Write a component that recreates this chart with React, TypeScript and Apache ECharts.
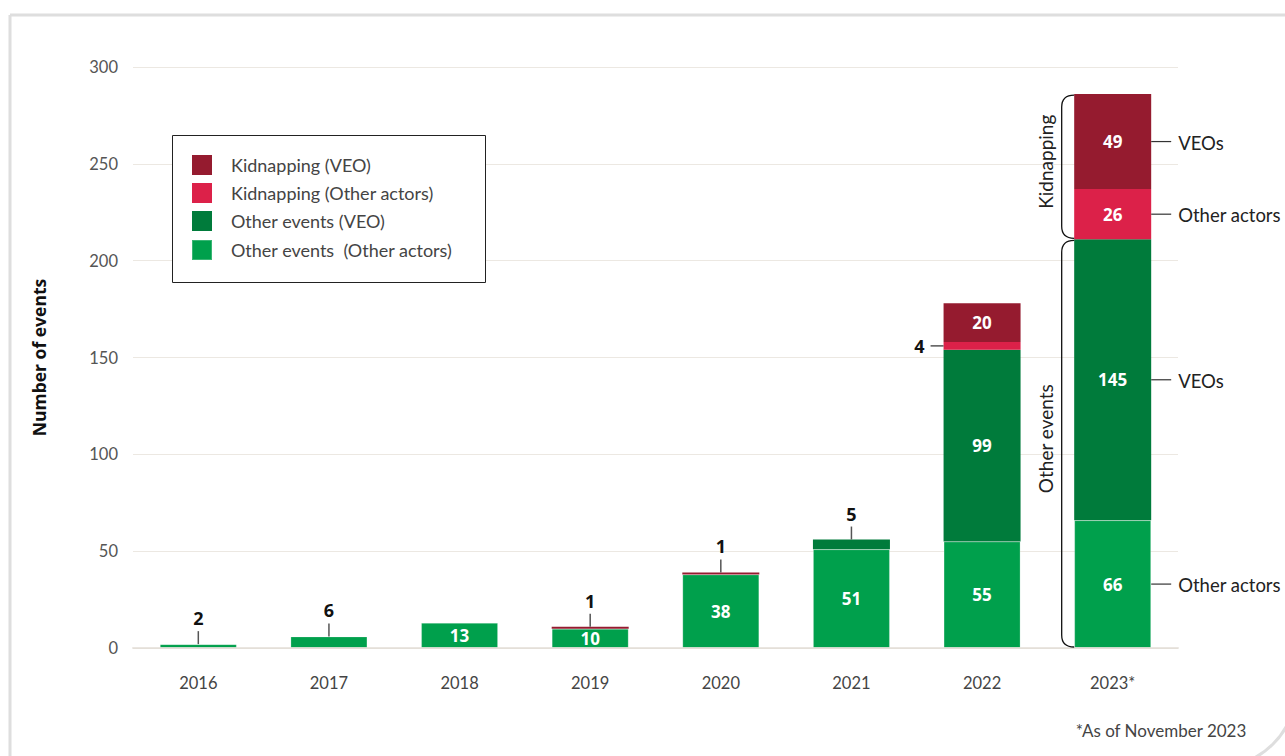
import React, { useEffect, useRef } from "react";
import * as echarts from "echarts";

const years = ["2016", "2017", "2018", "2019", "2020", "2021", "2022", "2023*"];
// stacked bottom -> top
const otherEventsOther = [2, 6, 13, 10, 38, 51, 55, 66];
const otherEventsVEO = [0, 0, 0, 0, 0, 5, 99, 145];
const kidnapOther = [0, 0, 0, 0, 0, 0, 4, 26];
const kidnapVEO = [0, 0, 0, 1, 1, 0, 20, 49];

const seriesNames = [
  "Other events  (Other actors)",
  "Other events (VEO)",
  "Kidnapping (Other actors)",
  "Kidnapping (VEO)",
];
const legendOrder = [
  "Kidnapping (VEO)",
  "Kidnapping (Other actors)",
  "Other events (VEO)",
  "Other events  (Other actors)",
];
const seriesColors = ["#00a04c", "#007b3b", "#dc2149", "#951b2f"];
const actorLabels = ["Other actors", "VEOs", "Other actors", "VEOs"];
const groupLabels = ["Other events", "Kidnapping"];
const groupSeries = [
  [0, 1],
  [2, 3],
];
const yTicks = { min: 0, max: 300, interval: 50 };
const footnote = "*As of November 2023";
const yAxisTitle = "Number of events";

const stacks = [otherEventsOther, otherEventsVEO, kidnapOther, kidnapVEO];
const BAR_W = 77;
const LABEL_FONT = "Open Sans";
const TEXT_FONT = "Lato";

export default function App() {
  const ref = useRef<HTMLDivElement>(null);

  useEffect(() => {
    if (!ref.current) return;
    const chart = echarts.init(ref.current, undefined, { renderer: "svg" });

    // callouts for small segments
    const callouts: number[][] = [];
    years.forEach((_, i) => {
      let topIdx = -1;
      stacks.forEach((s, si) => {
        if (s[i] > 0) topIdx = si;
      });
      let cum = 0;
      stacks.forEach((s, si) => {
        const v = s[i];
        if (v > 0 && v < 10) callouts.push([i, cum, cum + v, v, si === topIdx ? 1 : 0]);
        cum += v;
      });
    });

    const last = years.length - 1;
    const rightLabels: number[][] = [];
    {
      let cum = 0;
      stacks.forEach((s, si) => {
        const v = s[last];
        if (v > 0) rightLabels.push([last, cum + v / 2, si]);
        cum += v;
      });
    }
    const braces: number[][] = [];
    {
      const bounds: number[] = [0];
      let cum = 0;
      stacks.forEach((s) => {
        cum += s[last];
        bounds.push(cum);
      });
      groupSeries.forEach((g, gi) => {
        braces.push([last, bounds[g[0]], bounds[g[g.length - 1] + 1], gi]);
      });
    }

    const barSeries = stacks.map((data, si) => ({
      type: "bar",
      name: seriesNames[si],
      stack: "total",
      data,
      barWidth: BAR_W,
      itemStyle:
        si === 0
          ? { color: seriesColors[si], borderColor: "rgba(255,255,255,0.22)", borderWidth: 1 }
          : { color: seriesColors[si] },
      label: {
        show: true,
        position: "inside",
        color: "#ffffff",
        fontFamily: LABEL_FONT,
        fontWeight: "bold",
        fontSize: 17,
        formatter: (p: any) => (p.value >= 10 ? String(p.value) : ""),
      },
      z: 2,
    }));

    const option: any = {
      animation: false,
      backgroundColor: "#ffffff",
      grid: { left: 133, right: 107, top: 67, bottom: 108 },
      legend: {
        data: legendOrder,
        orient: "vertical",
        left: 191,
        top: 155,
        padding: 0,
        itemWidth: 20,
        itemHeight: 20,
        itemGap: 8,
        icon: "rect",
        selectedMode: false,
        textStyle: {
          fontFamily: TEXT_FONT,
          fontSize: 18,
          lineHeight: 20,
          color: "#444444",
          padding: [0, 0, 0, 14],
        },
        z: 10,
      },
      xAxis: {
        type: "category",
        data: years,
        axisTick: { show: false },
        axisLine: { show: true, lineStyle: { color: "rgba(225,220,212,0.7)", width: 2 } },
        axisLabel: {
          color: "#444444",
          fontFamily: TEXT_FONT,
          fontSize: 16.5,
          margin: 26,
        },
        z: 3,
      },
      yAxis: {
        type: "value",
        min: yTicks.min,
        max: yTicks.max,
        interval: yTicks.interval,
        name: yAxisTitle,
        nameLocation: "middle",
        nameRotate: 90,
        nameGap: 85,
        nameTextStyle: {
          fontFamily: LABEL_FONT,
          fontWeight: "bold",
          fontSize: 17.5,
          color: "#111111",
        },
        axisLine: { show: false },
        axisTick: { show: false },
        splitLine: { lineStyle: { color: "#ece8e2", width: 1 } },
        axisLabel: {
          color: "#555555",
          fontFamily: TEXT_FONT,
          fontSize: 16.5,
          margin: 15,
        },
      },
      graphic: [
        {
          type: "rect",
          shape: { x: 10, y: 15, width: 1285, height: 751, r: [0, 0, 75, 0] },
          style: { fill: "none", stroke: "#dedede", lineWidth: 3 },
          silent: true,
          z: 0,
        },
        {
          type: "rect",
          shape: { x: 172.5, y: 135.5, width: 313, height: 147 },
          style: { fill: "#ffffff", stroke: "#222222", lineWidth: 1 },
          silent: true,
          z: 5,
        },
        {
          type: "text",
          right: 38,
          top: 722,
          style: {
            text: footnote,
            fill: "#444444",
            font: `17px ${TEXT_FONT}`,
          },
          silent: true,
        },
      ],
      series: [
        ...barSeries,
        {
          type: "custom",
          name: "callouts",
          silent: true,
          data: callouts,
          z: 5,
          renderItem: (params: any, api: any) => {
            const i = api.value(0);
            const bottom = api.value(1);
            const top = api.value(2);
            const val = api.value(3);
            const side = api.value(4);
            const pTop = api.coord([i, top]);
            const pBot = api.coord([i, bottom]);
            const x = pTop[0];
            if (side === 1) {
              const y = pTop[1];
              return {
                type: "group",
                children: [
                  {
                    type: "line",
                    shape: { x1: x, y1: y, x2: x, y2: y - 13 },
                    style: { stroke: "#555555", lineWidth: 1.5 },
                  },
                  {
                    type: "text",
                    x,
                    y: y - 26,
                    style: {
                      text: String(val),
                      fill: "#111111",
                      font: `bold 18px ${LABEL_FONT}`,
                      align: "center",
                      verticalAlign: "middle",
                      textAlign: "center",
                      textVerticalAlign: "middle",
                    },
                  },
                ],
              };
            }
            const y = (pTop[1] + pBot[1]) / 2;
            const xl = x - BAR_W / 2;
            return {
              type: "group",
              children: [
                {
                  type: "line",
                  shape: { x1: xl, y1: y, x2: xl - 13, y2: y },
                  style: { stroke: "#555555", lineWidth: 1.5 },
                },
                {
                  type: "text",
                  x: xl - 19,
                  y,
                  style: {
                    text: String(val),
                    fill: "#111111",
                    font: `bold 18px ${LABEL_FONT}`,
                    align: "right",
                    verticalAlign: "middle",
                    textAlign: "right",
                    textVerticalAlign: "middle",
                  },
                },
              ],
            };
          },
        },
        {
          type: "custom",
          name: "actorLabels",
          silent: true,
          data: rightLabels,
          z: 5,
          renderItem: (params: any, api: any) => {
            const i = api.value(0);
            const mid = api.value(1);
            const si = api.value(2);
            const p = api.coord([i, mid]);
            const xr = p[0] + BAR_W / 2;
            const y = p[1];
            return {
              type: "group",
              children: [
                {
                  type: "line",
                  shape: { x1: xr, y1: y, x2: xr + 20, y2: y },
                  style: { stroke: "#333333", lineWidth: 1.2 },
                },
                {
                  type: "text",
                  x: xr + 27,
                  y: y + 1,
                  style: {
                    text: actorLabels[si],
                    fill: "#222222",
                    font: `18.5px ${TEXT_FONT}`,
                    align: "left",
                    verticalAlign: "middle",
                    textAlign: "left",
                    textVerticalAlign: "middle",
                  },
                },
              ],
            };
          },
        },
        {
          type: "custom",
          name: "braces",
          silent: true,
          data: braces,
          z: 5,
          renderItem: (params: any, api: any) => {
            const i = api.value(0);
            const bottom = api.value(1);
            const top = api.value(2);
            const gi = api.value(3);
            const pT = api.coord([i, top]);
            const pB = api.coord([i, bottom]);
            const xl = pT[0] - BAR_W / 2;
            const xb = xl - 12.5;
            const r = 12;
            const y1 = pT[1] + 1;
            const y2 = pB[1] - 1;
            const d = `M${xl} ${y1} Q${xb} ${y1} ${xb} ${y1 + r} L${xb} ${y2 - r} Q${xb} ${y2} ${xl} ${y2}`;
            return {
              type: "group",
              children: [
                {
                  type: "path",
                  shape: { pathData: d },
                  style: { stroke: "#111111", fill: "none", lineWidth: 1.3 },
                },
                {
                  type: "text",
                  x: xb - 16,
                  y: (y1 + y2) / 2 - 5,
                  rotation: Math.PI / 2,
                  style: {
                    text: groupLabels[gi],
                    fill: "#222222",
                    font: `19px ${TEXT_FONT}`,
                    align: "center",
                    verticalAlign: "middle",
                    textAlign: "center",
                    textVerticalAlign: "middle",
                  },
                },
              ],
            };
          },
        },
      ],
    };

    chart.setOption(option);
    return () => {
      chart.dispose();
    };
  }, []);

  return (
    <div
      ref={ref}
      style={{ position: "fixed", left: 0, top: 0, width: 1285, height: 756, background: "#fff" }}
    />
  );
}
